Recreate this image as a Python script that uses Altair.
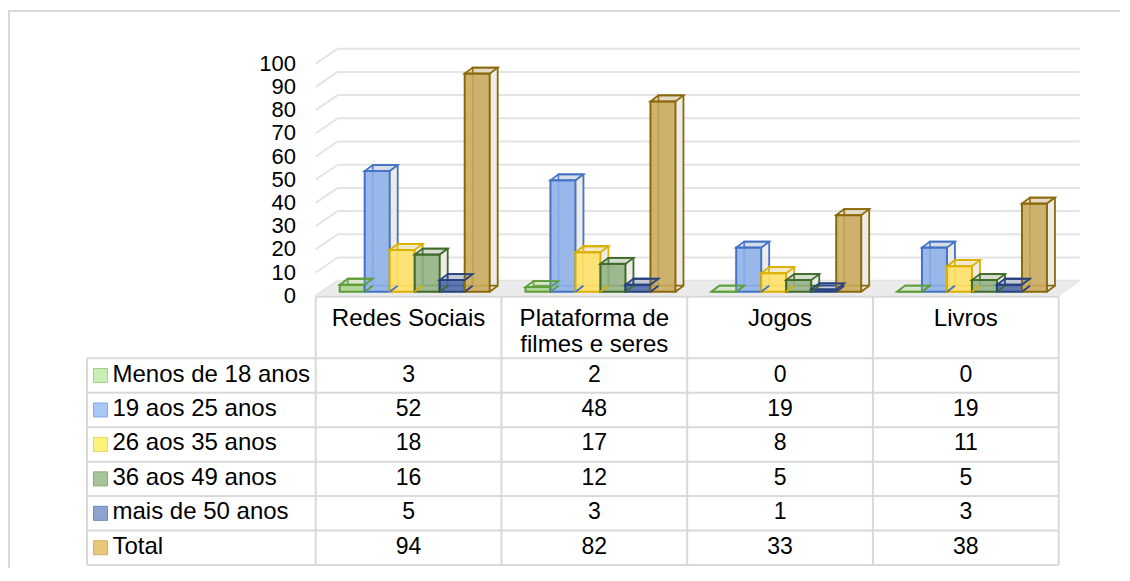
import altair as alt
import pandas as pd

# ---------------- data ----------------
categories = ["Redes Sociais", "Plataforma de filmes e seres", "Jogos", "Livros"]
header_text = ["Redes Sociais", "Plataforma de\nfilmes e seres", "Jogos", "Livros"]
series = ["Menos de 18 anos", "19 aos 25 anos", "26 aos 35 anos",
          "36 aos 49 anos", "mais de 50 anos", "Total"]
menos_18 = [3, 2, 0, 0]
de_19_25 = [52, 48, 19, 19]
de_26_35 = [18, 17, 8, 11]
de_36_49 = [16, 12, 5, 5]
mais_50 = [5, 3, 1, 3]
total = [94, 82, 33, 38]
y_ticks = [0, 10, 20, 30, 40, 50, 60, 70, 80, 90, 100]

# ---------------- styles ----------------
front_fill = ["#a9d48c", "#8db0e8", "#ffe066", "#93b083", "#4b68a6", "#c9a85a"]
edge_col = ["#5d9e38", "#4472c4", "#dcb000", "#3f6b28", "#27417c", "#8a690b"]
legend_fill = ["#c8efb4", "#a9c8f7", "#fff27a", "#a8c49a", "#8ea3cf", "#e8c878"]
legend_edge = ["#a4cf8c", "#86a9e0", "#e8d860", "#8aa97c", "#7088bb", "#d1b060"]
FONT = "Liberation Sans"
FS = 23
FS_LAB = 24
FS_TICK = 22
GRID = "#e4e4e4"
BORDER = "#d9d9d9"

rows = []
for s, vals in zip(series, [menos_18, de_19_25, de_26_35, de_36_49, mais_50, total]):
    for c, v in zip(categories, vals):
        rows.append({"cat": c, "series": s, "value": v})
df = pd.DataFrame(rows)
ticks_df = pd.DataFrame({"v": y_ticks})
hdr_df = pd.DataFrame({"cat": categories, "h": header_text})
lab_df = pd.DataFrame({"row": series})
one = pd.DataFrame({"k": [0]})

# ---------------- geometry (svg px) ----------------
W, H = 1112, 560
X0, X1 = 307.7, 1050.7            # table value columns / category bands
DX, DY = 8, -6                     # 3-D depth of bars
BAR_W = 25
OFF0 = 24
y_scale = alt.Scale(domain=[0, 100], range=[283.7, 51.7])
x_scale = alt.Scale(domain=categories, range=[X0, X1], paddingInner=0, paddingOuter=0)
fill_scale = alt.Scale(domain=series, range=front_fill)
edge_scale = alt.Scale(domain=series, range=edge_col)


def xoff(shift=0):
    return alt.XOffset("series:N", sort=series,
                       scale=alt.Scale(type="band", domain=series,
                                       range=[OFF0 + shift, OFF0 + shift + BAR_W * len(series)],
                                       paddingInner=0, paddingOuter=0))


X = alt.X("cat:N", scale=x_scale, axis=None, sort=categories)
Y = alt.Y("value:Q", scale=y_scale, axis=None)

# floor parallelogram (front edge y=288.7, back edge y=273.7)
fl_cx, fl_cy, fl_k = (X0 + 1071.7) / 2, 281.2, (1071.7 - X0) / 2
u = lambda px: round(px / fl_k, 5)
floor_path = (f"M -1 {u(7.5)} L {u(X1 - fl_cx)} {u(7.5)} L 1 {u(-7.5)} "
              f"L {u(329.7 - fl_cx)} {u(-7.5)} Z")
floor = alt.Chart(one).mark_point(
    shape=floor_path, size=(2 * fl_k) ** 2, filled=True, fill="#ebebeb",
    strokeWidth=0, opacity=1
).encode(x=alt.value(fl_cx), y=alt.value(fl_cy))

grid = alt.Chart(ticks_df).mark_rule(color=GRID, strokeWidth=2, yOffset=-11).encode(
    y=alt.Y("v:Q", scale=y_scale, axis=None),
    x=alt.value(329.7), x2=alt.value(1071.7))

wall = alt.Chart(ticks_df).mark_point(
    shape="M -1 0.68 L 1 -0.68", size=484, filled=False, stroke=GRID,
    strokeWidth=2, opacity=1, yOffset=-3.5
).encode(y=alt.Y("v:Q", scale=y_scale, axis=None), x=alt.value(318.7))

tick_lab = alt.Chart(ticks_df).mark_text(
    align="right", baseline="middle", font=FONT, fontSize=FS_TICK, color="#000", yOffset=4
).encode(y=alt.Y("v:Q", scale=y_scale, axis=None), x=alt.value(288), text="v:Q")

back = alt.Chart(df).mark_bar(
    yOffset=DY, y2Offset=DY, fill="#ebeae6", fillOpacity=0.9, strokeWidth=1.8
).encode(x=X, xOffset=xoff(DX), y=Y, y2=alt.datum(0),
         stroke=alt.Stroke("series:N", scale=edge_scale, legend=None))

front = alt.Chart(df).mark_bar(strokeWidth=2, fillOpacity=0.88).encode(
    x=X, xOffset=xoff(0), y=Y, y2=alt.datum(0),
    fill=alt.Fill("series:N", scale=fill_scale, legend=None),
    stroke=alt.Stroke("series:N", scale=edge_scale, legend=None))

k = BAR_W / 2
top_path = f"M -1 0 L 1 0 L {1 + DX / k} {DY / k} L {-1 + DX / k} {DY / k} Z"
top = alt.Chart(df).mark_point(
    shape=top_path, size=BAR_W ** 2, filled=True, strokeWidth=1.8, opacity=1,
    fillOpacity=0.25
).encode(x=X, xOffset=xoff(0), y=Y,
         fill=alt.Fill("series:N", scale=fill_scale, legend=None),
         stroke=alt.Stroke("series:N", scale=edge_scale, legend=None))

base_path = f"M 1 0 L {1 + DX / k} {DY / k}"
base = alt.Chart(df).mark_point(
    shape=base_path, size=BAR_W ** 2, filled=False, strokeWidth=1.8, opacity=1
).encode(x=X, xOffset=xoff(0), y=alt.datum(0),
         stroke=alt.Stroke("series:N", scale=edge_scale, legend=None))

bars = alt.layer(floor, grid, wall, tick_lab, back, front, top, base).resolve_scale(
    xOffset="independent")

# ---------------- table ----------------
T_LEFT = 79
HDR_TOP = 288.7
ROW_TOP, ROW_BOT = 350.3, 557.0
row_h = (ROW_BOT - ROW_TOP) / len(series)
row_scale = alt.Scale(domain=series, range=[ROW_TOP, ROW_BOT], paddingInner=0, paddingOuter=0)
XT = alt.X("cat:N", scale=x_scale, axis=None, sort=categories)
YR = alt.Y("row:N", scale=row_scale, axis=None, sort=series)

hdr = alt.Chart(hdr_df).mark_text(
    baseline="top", align="center", font=FONT, fontSize=FS_LAB, color="#000",
    lineBreak="\n", lineHeight=26
).encode(x=XT, y=alt.value(298.5), text="h:N")

vals = alt.Chart(df.rename(columns={"series": "row"})).mark_text(
    baseline="middle", align="center", font=FONT, fontSize=FS, color="#000", dy=-1
).encode(x=XT, y=YR, text="value:Q")

labels = alt.Chart(lab_df).mark_text(
    baseline="middle", align="left", font=FONT, fontSize=FS_LAB, color="#000", dy=-1
).encode(x=alt.value(104.5), y=YR, text="row:N")

swatch = alt.Chart(lab_df).mark_square(size=196, opacity=1, strokeWidth=1).encode(
    x=alt.value(92.5), y=YR,
    fill=alt.Fill("row:N", scale=alt.Scale(domain=series, range=legend_fill), legend=None),
    stroke=alt.Stroke("row:N", scale=alt.Scale(domain=series, range=legend_edge), legend=None))

hlines = [(HDR_TOP, X0, X1)] + [(ROW_TOP + i * row_h, T_LEFT, X1) for i in range(len(series) + 1)]
hl_df = pd.DataFrame([{"y": a, "xa": b, "xb": c} for a, b, c in hlines])
vlines = [(T_LEFT, ROW_TOP)] + [(X0 + i * (X1 - X0) / 4, HDR_TOP) for i in range(5)]
vl_df = pd.DataFrame([{"x": a, "ya": b, "yb": ROW_BOT} for a, b in vlines])

hrule = alt.Chart(hl_df).mark_rule(color=BORDER, strokeWidth=2).encode(
    y=alt.Y("y:Q", scale=None, axis=None), x=alt.X("xa:Q", scale=None, axis=None),
    x2="xb:Q")
vrule = alt.Chart(vl_df).mark_rule(color=BORDER, strokeWidth=2).encode(
    x=alt.X("x:Q", scale=None, axis=None), y=alt.Y("ya:Q", scale=None, axis=None),
    y2="yb:Q")

# outer frame (left and top edges)
frame_v = alt.Chart(one).mark_rule(color=BORDER, strokeWidth=2).encode(
    x=alt.value(1), y=alt.value(3), y2=alt.value(H))
frame_h = alt.Chart(one).mark_rule(color=BORDER, strokeWidth=2).encode(
    x=alt.value(0), x2=alt.value(W), y=alt.value(3))

table = alt.layer(hrule, vrule, hdr, vals, labels, swatch, frame_v, frame_h)

chart = alt.layer(bars, table).resolve_scale(
    x="independent", y="independent", fill="independent", stroke="independent"
).properties(
    width=W, height=H, padding=0, autosize=alt.AutoSizeParams(type="none")
).configure_view(stroke=None)

chart.save("out.html", embed_options={"renderer": "svg", "actions": False})
